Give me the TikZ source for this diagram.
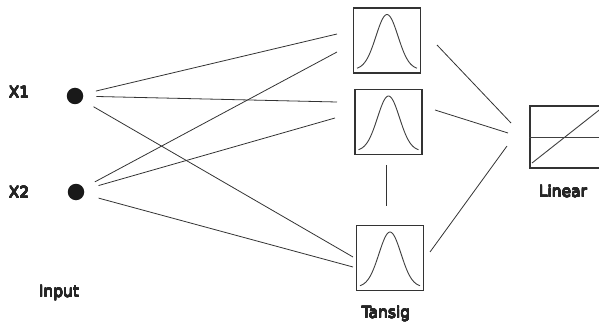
\documentclass[tikz,border=0pt]{standalone}
\usepackage{fontspec}
\setmainfont{DejaVu Sans}
\usepackage[copies]{contour}
\contourlength{0.2pt}
\contournumber{16}
\newcommand{\thk}[1]{\contour{black!85}{#1}}
\usetikzlibrary{calc}
\begin{document}
\begin{tikzpicture}[x=1pt,y=-1pt,
  conn/.style={draw=black!80,line width=0.8pt},
  unit/.style={draw=black!80,line width=1.4pt,minimum width=67pt,minimum height=65pt,inner sep=0pt,fill=white},
  inp/.style={circle,fill=black!90,inner sep=0pt,minimum size=16.5pt},
  lbl/.style={anchor=base,inner sep=0pt,text=black!85,font=\fontsize{15.5}{18}\selectfont},
  curve/.style={draw=black!75,line width=0.9pt}]
\useasboundingbox (0,0) rectangle (599,323);
\clip (0,0) rectangle (599,323);
% input nodes
\node[inp] (x1) at (75,96) {};
\node[inp] (x2) at (76,192) {};
\node[lbl] (lx1) at (19,98) {\thk{X1}};
\node[lbl] (lx2) at (19,198) {\thk{X2}};
\node[lbl] (linput) at (59,297) {\thk{Input}};
% hidden units
\node[unit] (b1) at (387,40.5) {};
\node[unit] (b2) at (388.5,122) {};
\node[unit] (b3) at (390,258) {};
\node[lbl] (ltansig) at (386,318) {\thk{Tansig}};
% output unit
\node[unit,minimum width=80pt,minimum height=62pt] (lin) at (570,137) {};
\node[lbl] (llinear) at (563,197) {\thk{Linear}};
% gaussian curves
\foreach \b in {b1,b2,b3}{
  \draw[curve,shift={(\b.center)}] plot[domain=-30:30,samples=60,smooth] (\x,{29-55*exp(-\x*\x/242)});
}
% linear transfer
\draw[curve] (lin.west) -- (599,137);
\draw[curve] (532,163) -- (610,101.5);
% connector end points
\coordinate (e11) at (337,34);
\coordinate (e12) at (337,102);
\coordinate (e13) at (353,257);
\coordinate (e21) at (337,52);
\coordinate (e22) at (335,118);
\coordinate (e23) at (353,267);
\coordinate (o1) at (437,45);
\coordinate (o2) at (435,110);
\coordinate (o3) at (430,252);
\coordinate (i1) at (511,123);
\coordinate (i2) at (508,133);
\coordinate (i3) at (507,146);
\coordinate (v1) at (386,165);
\coordinate (v2) at (386,206);
% input connectors
\draw[conn,shorten <=13pt] (x1) -- (e11);
\draw[conn,shorten <=13pt] (x1) -- (e12);
\draw[conn,shorten <=13pt] (x1) -- (e13);
\draw[conn,shorten <=13pt] (x2) -- (e21);
\draw[conn,shorten <=15pt] (x2) -- (e22);
\draw[conn,shorten <=15pt] (x2) -- (e23);
% output connectors
\draw[conn] (o1) -- (i1);
\draw[conn] (o2) -- (i2);
\draw[conn] (o3) -- (i3);
\draw[conn] (v1) -- (v2);
\end{tikzpicture}
\end{document}
